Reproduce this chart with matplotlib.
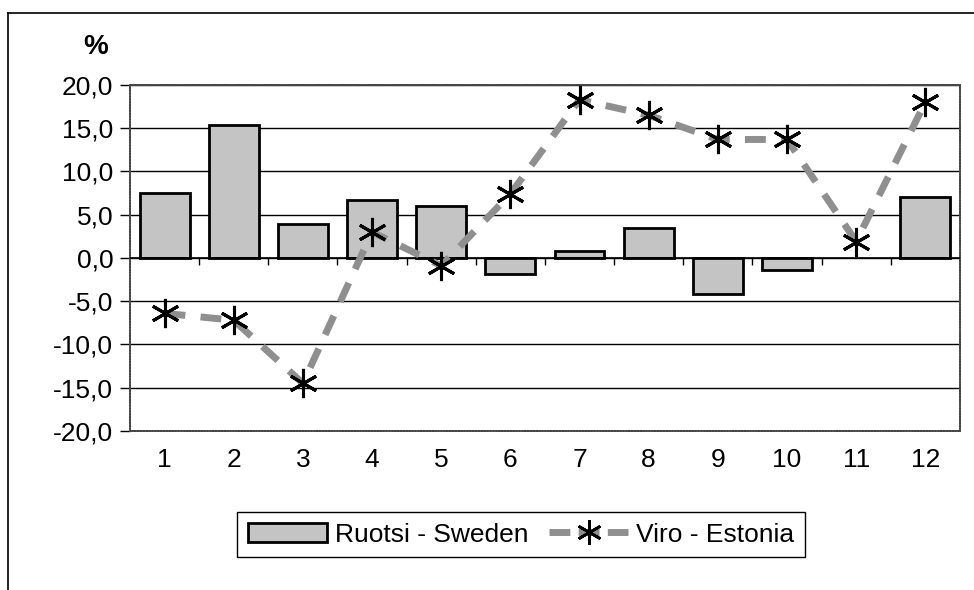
import matplotlib.pyplot as plt
from matplotlib.patches import Patch
from matplotlib.lines import Line2D

plt.rcParams["font.family"] = ["Liberation Sans", "DejaVu Sans"]
plt.rcParams["font.size"] = 19

months = list(range(1, 13))
# month 11 has no visible Sweden bar
sweden = [7.5, 15.4, 3.9, 6.7, 6.0, -1.9, 0.75, 3.5, -4.2, -1.4, float("nan"), 7.1]
estonia = [-6.4, -7.2, -14.5, 3.0, -0.9, 7.4, 18.3, 16.5, 13.7, 13.7, 1.9, 18.0]
yticks = [-20, -15, -10, -5, 0, 5, 10, 15, 20]

BAR_COLOR = "#c4c4c4"
LINE_COLOR = "#8f8f8f"

fig = plt.figure(figsize=(9.74, 5.90), dpi=100)
ax = fig.add_axes([0.1335, 0.2695, 0.852, 0.5865])

# outer chart frame (only top and left edges visible in the scan)
fig.add_artist(plt.Line2D([0.008, 1.0], [0.978, 0.978], color="black", lw=1.2,
                          transform=fig.transFigure))
fig.add_artist(plt.Line2D([0.008, 0.008], [0.0, 0.978], color="black", lw=1.2,
                          transform=fig.transFigure))

ax.set_axisbelow(True)
ax.yaxis.grid(True, color="black", lw=1.0)
ax.bar(months, sweden, width=0.72, color=BAR_COLOR, edgecolor="black", lw=2, zorder=2)
ax.axhline(0, color="black", lw=1.2, zorder=3)
ax.vlines([m + 0.5 for m in months[:-1]], -0.8, 0, color="black", lw=1.0, zorder=3)

ax.plot(months, estonia, color=LINE_COLOR, lw=5, ls=(0, (3, 2.2)), zorder=4)
ax.plot(months, estonia, ls="none", marker=(6, 2, 0), ms=21, mec="black",
        mew=2.2, zorder=5)

ax.set_xlim(0.5, 12.5)
ax.set_ylim(-20, 20)
ax.set_yticks(yticks)
ax.set_yticklabels([f"{v:.1f}".replace(".", ",") for v in yticks])
ax.set_xticks(months)
ax.tick_params(axis="x", length=0, pad=12)
ax.tick_params(axis="y", length=7, width=1.0, pad=5)
for s in ax.spines.values():
    s.set_linestyle((0, (1, 0.6)))
    s.set_color("#444444")
    s.set_linewidth(1.3)

fig.text(0.098, 0.92, "%", fontsize=20, fontweight="bold", ha="center", va="center")

handles = [
    Patch(facecolor=BAR_COLOR, edgecolor="black", lw=2, label="Ruotsi - Sweden"),
    Line2D([], [], color=LINE_COLOR, lw=5, ls=(0, (3, 1.2)), marker=(6, 2, 0),
           ms=18, mec="black", mew=2, label="Viro - Estonia"),
]
leg = fig.legend(handles=handles, loc="center", bbox_to_anchor=(0.535, 0.094),
                 ncol=2, fancybox=False, edgecolor="black", framealpha=1,
                 handlelength=3.0, handletextpad=0.3, columnspacing=0.8,
                 borderpad=0.4, fontsize=19)
leg.get_frame().set_linewidth(1.0)

fig.savefig("out.png", dpi=100)
